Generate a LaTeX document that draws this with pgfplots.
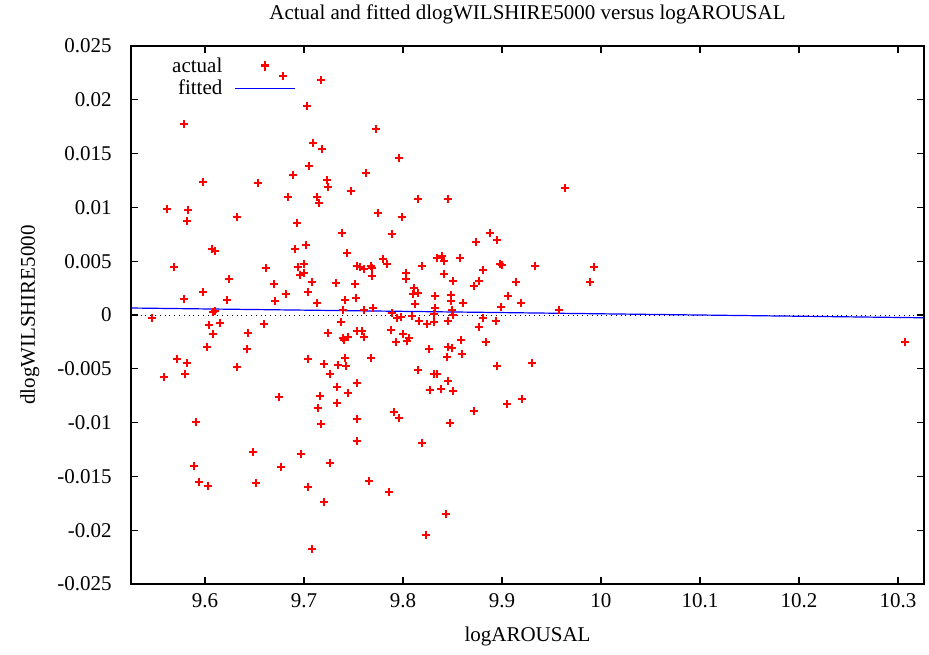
\documentclass[border=0pt]{standalone}
\usepackage{fontspec}
\setmainfont{Liberation Serif}
\usepackage{pgfplots}
\pgfplotsset{compat=1.18}

% fitted dlogWILSHIRE5000 vs logAROUSAL, gnuplot look
\begin{document}
\fontsize{10.5}{12.6}\selectfont
\begin{tikzpicture}
\begin{axis}[
  scale only axis,
  width=396.5pt, height=269pt,
  xmin=9.5253, xmax=10.3263,
  ymin=-0.025, ymax=0.025,
  axis line style={line width=0.7pt},
  tick style={black, line width=0.6pt},
  major tick length=3.5pt,
  tick align=inside,
  xtick={9.6,9.7,9.8,9.9,10,10.1,10.2,10.3},
  xticklabels={9.6,9.7,9.8,9.9,10,10.1,10.2,10.3},
  ytick={-0.025,-0.02,-0.015,-0.01,-0.005,0,0.005,0.01,0.015,0.02,0.025},
  yticklabels={-0.025,-0.02,-0.015,-0.01,-0.005,0,0.005,0.01,0.015,0.02,0.025},
  scaled y ticks=false,
  yticklabel style={anchor=east, inner sep=0pt, xshift=-9.5pt},
  xticklabel style={anchor=north, inner sep=0pt, yshift=-4.5pt},
  title={Actual and fitted dlogWILSHIRE5000 versus logAROUSAL},
  every axis title shift=0pt,
  title style={at={(axis description cs:0.5,1.0595)}, anchor=center, inner sep=0pt},
  xlabel={logAROUSAL},
  ylabel={dlogWILSHIRE5000},
  every axis x label/.style={at={(axis description cs:0.5,-0.0967)}, anchor=center, inner sep=0pt},
  every axis y label/.style={at={(axis description cs:-0.1274,0.5)}, rotate=90, anchor=center, inner sep=0pt},
  legend plot pos=right,
  legend cell align=right,
  legend image code/.code={\draw[mark repeat=2,mark phase=2,#1] plot coordinates {(0pt,0pt)(15pt,0pt)(30pt,0pt)};},
  legend style={draw=none, fill=none, inner sep=0pt, row sep=-2pt, column sep=4pt,
    at={(axis description cs:0.208,0.986)}, anchor=north east},
]
\addplot [black, line width=0.4pt, dotted, forget plot] coordinates {(9.5253,0) (10.3263,0)};

\addplot [only marks, color=red, draw=red, mark=+, mark size=2.1pt, line width=0.6pt,
  mark options={solid, draw=red}] table {
x y
9.6606 0.02324
9.6788 0.02221
9.7172 0.02184
9.5788 0.01775
9.7030 0.01942
9.7091 0.01599
9.7182 0.01543
9.7727 0.01729
9.7960 0.01459
9.5980 0.01236
9.6535 0.01227
9.6889 0.01301
9.7051 0.01385
9.7232 0.01255
9.7242 0.01190
9.6838 0.01097
9.7131 0.01097
9.7152 0.01041
9.7626 0.01320
9.7475 0.01152
9.5616 0.00985
9.5828 0.00976
9.5818 0.00874
9.6323 0.00911
9.6929 0.00855
9.7747 0.00948
9.7990 0.00911
9.7889 0.00753
9.7384 0.00762
9.5687 0.00446
9.6071 0.00613
9.6101 0.00595
9.6616 0.00437
9.6697 0.00288
9.5980 0.00214
9.6242 0.00335
9.6222 0.00139
9.6707 0.00130
9.5788 0.00149
9.6818 0.00195
9.6909 0.00613
9.7020 0.00651
9.6939 0.00446
9.7000 0.00474
9.6960 0.00372
9.7000 0.00390
9.7081 0.00307
9.7040 0.00214
9.7434 0.00576
9.7535 0.00455
9.7566 0.00446
9.7606 0.00428
9.7677 0.00455
9.7687 0.00437
9.7687 0.00362
9.7798 0.00520
9.7838 0.00474
9.8030 0.00390
9.8030 0.00335
9.8192 0.00455
9.8343 0.00530
9.7323 0.00297
9.7515 0.00288
9.7131 0.00112
9.7414 0.00139
9.7525 0.00158
9.8111 0.00251
9.8101 0.00195
9.8152 0.00204
9.8121 0.00102
9.8323 0.00177
9.7394 0.00046
9.7606 0.00046
9.7697 0.00065
9.8323 0.00065
9.7889 0.00019
9.7939 -0.00028
9.7980 -0.00019
9.8091 -0.00009
9.8313 0.00009
9.8162 -0.00056
9.8242 -0.00084
9.8313 -0.00065
9.7374 -0.00065
9.8152 0.01078
9.8455 0.01078
9.9636 0.01180
9.8879 0.00762
9.8737 0.00678
9.8949 0.00697
9.8394 0.00548
9.8414 0.00502
9.8576 0.00530
9.8980 0.00474
9.9000 0.00465
9.9333 0.00455
9.9929 0.00446
9.9889 0.00307
9.8414 0.00381
9.8808 0.00418
9.8505 0.00316
9.8768 0.00316
9.8717 0.00270
9.9141 0.00307
9.9061 0.00177
9.9192 0.00112
9.8990 0.00074
9.8606 0.00112
9.8485 0.00186
9.8485 0.00130
9.8495 0.00046
9.8505 0.00000
9.8455 -0.00056
9.8808 -0.00028
9.8939 -0.00056
9.8768 -0.00112
9.9576 0.00046
9.6101 0.00037
9.6081 0.00028
9.5465 -0.00028
9.6040 -0.00093
9.6152 -0.00074
9.6596 -0.00084
9.6081 -0.00177
9.6434 -0.00167
9.6020 -0.00297
9.6424 -0.00316
9.5717 -0.00409
9.5818 -0.00446
9.6323 -0.00483
9.5586 -0.00576
9.5798 -0.00548
9.6747 -0.00762
9.5909 -0.00994
9.6485 -0.01273
9.5889 -0.01403
9.6768 -0.01413
9.5939 -0.01552
9.6030 -0.01589
9.6515 -0.01561
9.7242 -0.00167
9.7535 -0.00149
9.7586 -0.00149
9.7606 -0.00204
9.7394 -0.00214
9.7404 -0.00232
9.7444 -0.00204
9.7879 -0.00139
9.8000 -0.00177
9.7929 -0.00251
9.8040 -0.00242
9.8061 -0.00214
9.8263 -0.00316
9.7040 -0.00409
9.7414 -0.00400
9.7677 -0.00400
9.7202 -0.00455
9.7343 -0.00465
9.7424 -0.00474
9.7263 -0.00548
9.8152 -0.00511
9.8313 -0.00548
9.7333 -0.00669
9.7535 -0.00632
9.7444 -0.00725
9.7162 -0.00753
9.8273 -0.00697
9.7333 -0.00818
9.7141 -0.00864
9.7909 -0.00902
9.7960 -0.00957
9.7535 -0.00967
9.7172 -0.01013
9.7535 -0.01171
9.8192 -0.01190
9.6970 -0.01292
9.7263 -0.01376
9.8586 -0.00232
9.8838 -0.00251
9.8455 -0.00297
9.8495 -0.00307
9.8444 -0.00390
9.8596 -0.00362
9.8949 -0.00474
9.9303 -0.00446
9.8343 -0.00548
9.8455 -0.00613
9.8384 -0.00688
9.8505 -0.00706
9.9051 -0.00827
9.9202 -0.00781
9.8717 -0.00892
9.8475 -0.01004
9.7040 -0.01599
9.7657 -0.01543
9.7859 -0.01645
9.7202 -0.01738
9.8232 -0.02045
9.8434 -0.01850
9.7081 -0.02175
10.3071 -0.00251
};
\addlegendentry{actual}

\addplot [color=blue, draw=blue, line width=0.6pt] coordinates {(9.5253,0.00065) (10.3263,-0.000257)};
\addlegendentry{fitted}
\end{axis}
\pgfresetboundingbox
\path (-65.5pt,-35pt) rectangle (399pt,292pt);
\end{tikzpicture}
\end{document}
